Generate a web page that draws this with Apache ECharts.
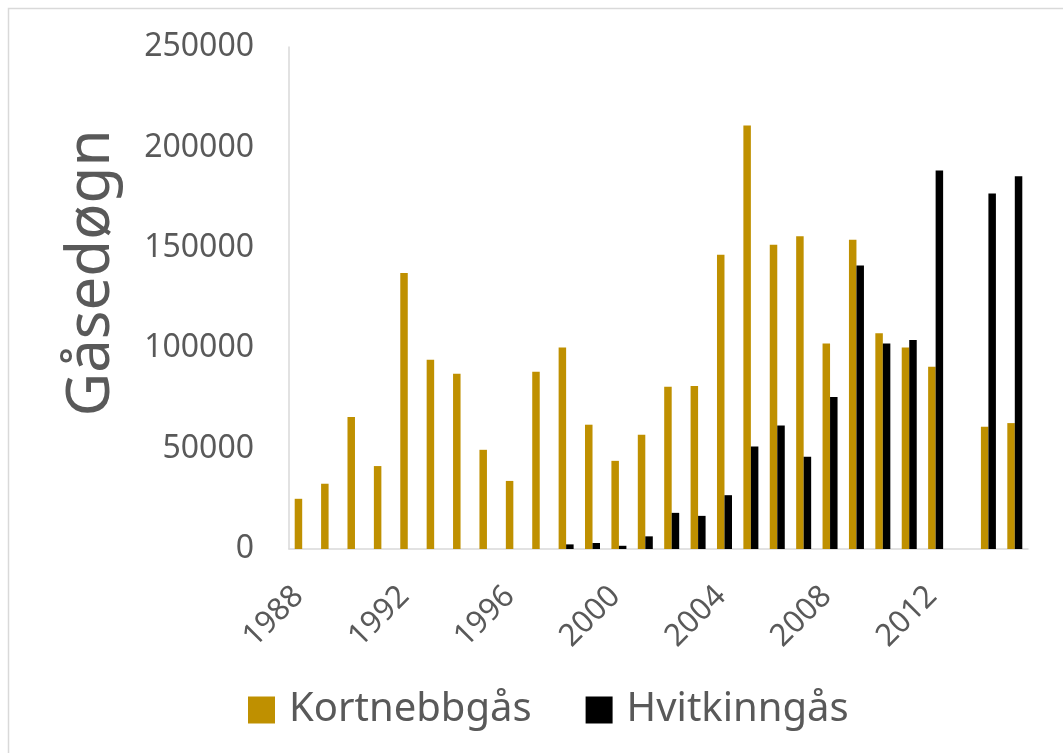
<!DOCTYPE html>
<html>
<head>
<meta charset="utf-8">
<title>Gåsedøgn</title>
<script src="https://cdn.jsdelivr.net/npm/echarts@6/dist/echarts.min.js"></script>
<style>
  html, body { margin: 0; padding: 0; background: #fff; }
  #chart { width: 1063px; height: 753px; }
</style>
</head>
<body>
<div id="chart"></div>
<script>
// år 1988 - 2015
var years = [
  "1988", "1989", "1990", "1991", "1992", "1993", "1994", "1995", "1996", "1997",
  "1998", "1999", "2000", "2001", "2002", "2003", "2004", "2005", "2006", "2007",
  "2008", "2009", "2010", "2011", "2012", "2013", "2014", "2015"
];

// Kortnebbgås
var kortnebb = [
  25000, 32500, 65700, 41300, 137400, 94200, 87300, 49400, 33900, 88300,
  100300, 61900, 43900, 56900, 80800, 81200, 146600, 210900, 151500, 155700,
  102400, 154000, 107400, 100400, 90800, null, 60900, 62700
];

// Hvitkinngås
var hvitkinn = [
  null, null, null, null, null, null, null, null, null, null,
  2300, 3000, 1600, 6300, 18000, 16500, 26800, 51000, 61500, 45900,
  75700, 141200, 102300, 104100, 188500, null, 177100, 185600
];

var yTicks = { min: 0, max: 250000, interval: 50000 };

var FONT = "Noto Sans";
var TEXT = "#595959";
var LINE = "#D9D9D9";

var options = {
  animation: false,
  backgroundColor: "#fff",
  textStyle: { fontFamily: FONT },
  // ramme rundt diagrammet
  graphic: [{
    type: "rect",
    shape: { x: 8.5, y: 8.5, width: 1200, height: 900 },
    style: { fill: "none", stroke: LINE, lineWidth: 1.5 },
    silent: true
  }],
  grid: { left: 289, right: 35, top: 47, bottom: 204 },
  legend: {
    left: 248,
    top: 690,
    padding: 0,
    itemWidth: 27,
    itemHeight: 27,
    itemGap: 54,
    icon: "rect",
    textStyle: { fontFamily: FONT, fontSize: 40, color: TEXT, lineHeight: 40, padding: [0, 0, 0, 9] },
    data: ["Kortnebbgås", "Hvitkinngås"]
  },
  xAxis: {
    type: "category",
    data: years,
    axisTick: { show: false },
    axisLine: { lineStyle: { color: LINE, width: 1.5 } },
    axisLabel: {
      interval: 3,
      rotate: 45,
      margin: 39,
      padding: [0, 5, 0, 0],
      fontFamily: FONT,
      fontSize: 31,
      color: TEXT
    }
  },
  yAxis: {
    type: "value",
    min: yTicks.min,
    max: yTicks.max,
    interval: yTicks.interval,
    name: "Gåsedøgn",
    nameLocation: "middle",
    nameRotate: 90,
    nameGap: 167,
    nameTextStyle: { fontFamily: FONT, fontSize: 60, color: TEXT, padding: [0, 0, 0, 50] },
    splitLine: { show: false },
    axisTick: { show: false },
    axisLine: { show: true, lineStyle: { color: LINE, width: 1.5 } },
    axisLabel: {
      margin: 35,
      fontFamily: FONT,
      fontSize: 32,
      color: TEXT,
      formatter: function (v) { return String(v); }
    }
  },
  series: [
    {
      name: "Kortnebbgås",
      type: "bar",
      data: kortnebb,
      barWidth: 7.5,
      barGap: "0%",
      itemStyle: { color: "#BF9000" }
    },
    {
      name: "Hvitkinngås",
      type: "bar",
      data: hvitkinn,
      barWidth: 7.5,
      barGap: "0%",
      itemStyle: { color: "#000000" }
    }
  ]
};

var myEchart = echarts.init(document.getElementById("chart"));
myEchart.setOption(options);
</script>
</body>
</html>
